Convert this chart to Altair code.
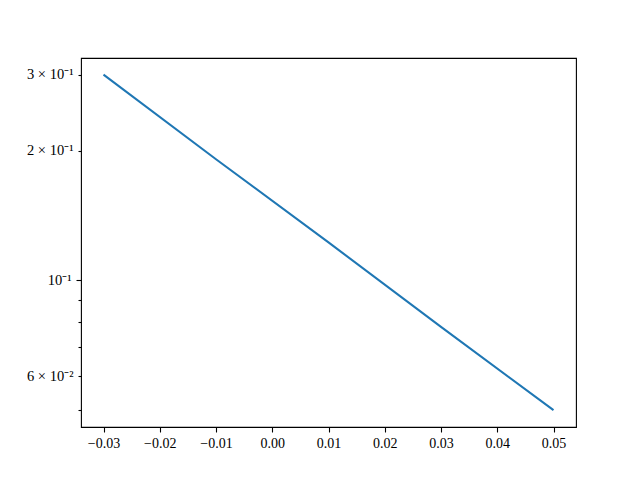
import altair as alt
import pandas as pd

# data
xs = [-0.03, -0.01, 0.01, 0.03, 0.05]
ys = [0.3, 0.191, 0.1225, 0.078, 0.05]

x_ticks = [-0.03, -0.02, -0.01, 0.0, 0.01, 0.02, 0.03, 0.04, 0.05]
y_ticks = [0.05, 0.06, 0.07, 0.08, 0.09, 0.1, 0.2, 0.3]
y_labels = ["", "6 × 10⁻²", "", "", "", "10⁻¹", "2 × 10⁻¹", "3 × 10⁻¹"]

df = pd.DataFrame({"x": xs, "y": ys})

label_expr = ""
for v, lab in zip(y_ticks, y_labels):
    label_expr += f"abs(datum.value - {v}) < 1e-9 ? '{lab}' : "
label_expr += "''"

FONT = "Liberation Serif"

chart = (
    alt.Chart(df)
    .mark_line(color="#1f77b4", strokeWidth=2.08)
    .encode(
        x=alt.X(
            "x:Q",
            scale=alt.Scale(domain=[-0.034, 0.054], nice=False, zero=False),
            axis=alt.Axis(
                values=x_ticks,
                format=".2f",
                title=None,
                grid=False,
                domain=False,
                tickSize=5,
                tickWidth=1.1,
                tickColor="black",
                labelPadding=4,
                labelFont=FONT,
                labelFontSize=14,
                labelColor="black",
            ),
        ),
        y=alt.Y(
            "y:Q",
            scale=alt.Scale(type="log", domain=[0.0457, 0.328], nice=False),
            axis=alt.Axis(
                values=y_ticks,
                labelExpr=label_expr,
                title=None,
                grid=False,
                domain=False,
                tickSize={"condition": {"test": "abs(datum.value - 0.1) < 1e-9", "value": 5}, "value": 3},
                tickWidth=1.1,
                tickColor="black",
                labelPadding=5,
                labelFont=FONT,
                labelFontSize=14.5,
                labelColor="black",
                labelOverlap=False,
                labelBound=False,
            ),
        ),
    )
    .properties(
        width=495,
        height=369,
        background="white",
        autosize=alt.AutoSizeParams(type="none"),
        padding={"left": 73, "top": 50, "right": 56, "bottom": 53},
    )
    .configure_view(stroke="black", strokeWidth=1.1)
)

chart.save("out.html", embed_options={"renderer": "svg", "actions": False})
